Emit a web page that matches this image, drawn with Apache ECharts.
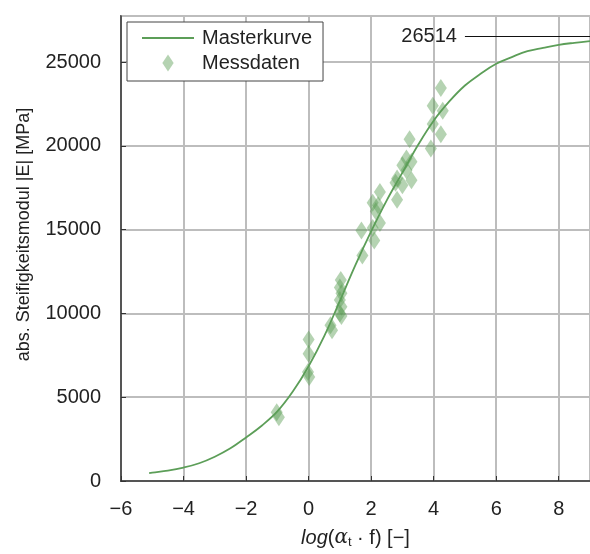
<!DOCTYPE html>
<html>
<head>
<meta charset="utf-8">
<script src="https://cdn.jsdelivr.net/npm/echarts@6/dist/echarts.min.js"></script>
<style>
html,body{margin:0;padding:0;background:#fff;}
#chart{width:590px;height:554px;}
</style>
</head>
<body>
<div id="chart"></div>
<script>
// Master curve
var curveX = [-5.1, -5, -4.5, -4, -3.5, -3, -2.5, -2, -1.5, -1, -0.5, 0, 0.5, 1, 1.5, 2, 2.5, 3, 3.5, 4, 4.5, 5, 5.5, 6, 6.5, 7, 7.5, 8, 8.5, 9];
var curveY = [470, 500, 620, 800, 1060, 1450, 1950, 2600, 3300, 4150, 5350, 6850, 8650, 10750, 12900, 14900, 16750, 18400, 20050, 21500, 22650, 23600, 24300, 24900, 25300, 25650, 25850, 26030, 26150, 26250];
// Measured data
var measX = [-1.02, -0.95, 0.0, 0.0, -0.02, 0.02, 0.7, 0.75, 1.03, 1.0, 1.05, 1.0, 1.05, 1.0, 1.05,
  1.69, 1.72, 2.05, 2.1, 2.28, 2.05, 2.22, 2.28, 2.15,
  2.78, 2.83, 2.83, 3.0, 3.0, 3.13, 3.13, 3.29, 3.29, 3.23,
  3.91, 3.97, 3.97, 4.23, 4.29, 4.23];
var measY = [4100, 3800, 8450, 7600, 6500, 6200, 9300, 9000, 12000, 11550, 11200, 10800, 10400, 10000, 9850,
  14950, 13450, 15100, 14350, 15400, 16600, 16450, 17250, 16100,
  17800, 16780, 18050, 18850, 17650, 19250, 18550, 19050, 17950, 20400,
  19850, 21300, 22400, 20700, 22100, 23450];
var asymptote = 26514;
var asymStartX = 5;
var xTicksMin = -6, xTicksMax = 9, xStep = 2;
var yMin = 0, yMax = 27750, yStep = 5000;
var seriesNames = ['Masterkurve', 'Messdaten'];

var FONT = 'Liberation Sans';
var chart = echarts.init(document.getElementById('chart'), null, {renderer: 'canvas'});
var curveData = curveX.map(function (x, i) { return [x, curveY[i]]; });
var measData = measX.map(function (x, i) { return [x, measY[i]]; });

chart.setOption({
  animation: false,
  backgroundColor: '#fff',
  textStyle: {fontFamily: FONT},
  grid: {left: 121, top: 16, width: 470, height: 470, show: true, borderColor: '#333', borderWidth: 1.5, backgroundColor: 'transparent'},
  legend: {
    orient: 'vertical', left: 127, top: 22,
    padding: [6, 11, 8, 15], itemGap: 5, itemWidth: 52, itemHeight: 17, itemStyle: {},
    backgroundColor: '#fff', borderColor: '#444', borderWidth: 1,
    textStyle: {fontFamily: FONT, fontSize: 20, color: '#222', padding: [0, 0, 0, 3]},
    data: [
      {name: seriesNames[0], icon: 'path://M0,0 L52,0 L52,1.8 L0,1.8 Z', itemStyle: {color: '#5c9e58'}},
      {name: seriesNames[1], icon: 'path://M6,0 L12,9 L6,18 L0,9 Z'}
    ]
  },
  xAxis: {
    type: 'value', min: xTicksMin, max: xTicksMax, interval: xStep,
    axisLine: {show: true, onZero: false, lineStyle: {color: '#333', width: 1.5}},
    axisTick: {show: true, inside: true, length: 5, lineStyle: {color: '#333'}},
    splitLine: {show: true, lineStyle: {color: '#bdbdbd', width: 2}},
    axisLabel: {showMaxLabel: false, margin: 18, fontSize: 20, color: '#222', fontFamily: FONT,
      formatter: function (v) { return String(v).replace('-', '\u2212'); }},
    name: '{i|log}({a|\u03b1}{s|t} \u00b7 f) [\u2212]',
    nameLocation: 'middle', nameGap: 46,
    nameTextStyle: {fontSize: 20, color: '#222', fontFamily: FONT,
      rich: {
        i: {fontSize: 20, fontStyle: 'italic', color: '#222', fontFamily: FONT},
        a: {fontSize: 20, fontStyle: 'italic', color: '#222', fontFamily: 'DejaVu Serif'},
        s: {fontSize: 13, color: '#222', fontFamily: FONT, padding: [9, 0, 0, 0]}
      }}
  },
  yAxis: {
    type: 'value', min: yMin, max: yMax, interval: yStep,
    axisLine: {show: true, onZero: false, lineStyle: {color: '#333', width: 1.5}},
    axisTick: {show: true, inside: true, length: 5, lineStyle: {color: '#333'}},
    splitLine: {show: true, lineStyle: {color: '#bdbdbd', width: 2}},
    axisLabel: {showMaxLabel: false, margin: 20, fontSize: 20, color: '#222', fontFamily: FONT,
      formatter: function (v) { return String(v); }},
    name: 'abs. Steifigkeitsmodul |E| [MPa]',
    nameLocation: 'middle', nameGap: 88,
    nameTextStyle: {fontSize: 18, color: '#222', fontFamily: FONT, padding: [0, 0, 0, 28]}
  },
  series: [
    {
      name: seriesNames[0], type: 'line', data: curveData, symbol: 'none', showSymbol: false, smooth: 0.4,
      lineStyle: {color: '#5c9e58', width: 1.8}, itemStyle: {color: '#5c9e58'}, z: 3,
      markLine: {
        silent: true, symbol: ['none', 'none'],
        lineStyle: {color: '#111', width: 1, type: 'solid'},
        label: {show: true, position: 'start', distance: 8, fontSize: 20, color: '#222', fontFamily: FONT,
          formatter: String(asymptote)},
        data: [[{coord: [asymStartX, asymptote]}, {coord: [xTicksMax, asymptote]}]]
      }
    },
    {
      name: seriesNames[1], type: 'scatter', data: measData,
      symbol: 'diamond', symbolSize: [12, 18],
      itemStyle: {color: 'rgba(86,154,80,0.55)'}, z: 2
    }
  ]
});
</script>
</body>
</html>
